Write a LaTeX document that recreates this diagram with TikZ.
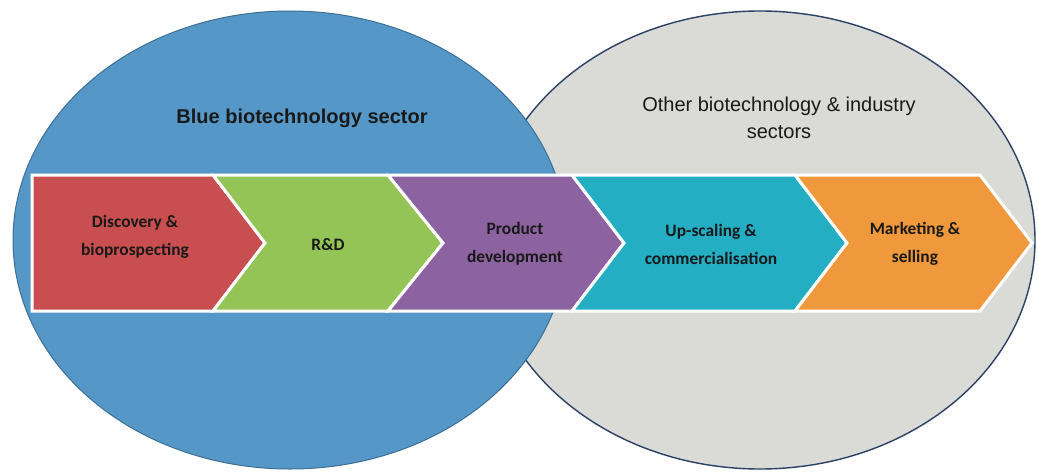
\documentclass[tikz,border=0pt]{standalone}
\usepackage{fontspec}
\setmainfont{Liberation Sans}
\newfontfamily\stagefont{Carlito}
\usetikzlibrary{positioning}
\definecolor{blueSector}{RGB}{85, 152, 200}
\definecolor{blueEdge}{RGB}{60, 110, 150}
\definecolor{otherGray}{RGB}{218, 219, 214}
\definecolor{otherEdge}{RGB}{40, 65, 100}
\definecolor{stageRed}{RGB}{200, 78, 80}
\definecolor{stageGreen}{RGB}{148, 196, 86}
\definecolor{stagePurple}{RGB}{140, 98, 160}
\definecolor{stageCyan}{RGB}{36, 174, 196}
\definecolor{stageOrange}{RGB}{240, 152, 60}
\definecolor{labelInk}{RGB}{25, 25, 25}

\tikzset{
  stage/.style={draw=white, line width=1.5pt, line join=miter},
  stagetext/.style={align=center, text=labelInk, font=\stagefont\bfseries\fontsize{8.7}{14}\selectfont},
  sectortitle/.style={align=center, text=labelInk, font=\fontsize{10}{13.5}\selectfont}
}

\begin{document}
\begin{tikzpicture}[x=0.5pt, y=-0.5pt]
        \useasboundingbox (0,0) rectangle (1038,471);
        \fill[white] (0,0) rectangle (1038,471);
        % the two sectors
        \filldraw[fill=otherGray, draw=otherEdge, line width=0.7pt] (760,240) ellipse [x radius=275, y radius=229];
        \filldraw[fill=blueSector, draw=blueEdge, line width=0.5pt] (290,240) ellipse [x radius=277, y radius=229];
        \node[sectortitle, font=\bfseries\fontsize{10}{13.5}\selectfont] (blue) at (302,118) {Blue biotechnology sector};
        \node[sectortitle] (other) at (779,118) {Other biotechnology \& industry\\sectors};
        % value chain
        \fill[stageRed, stage] (32,175) -- (213,175) -- (265,243) -- (213,311) -- (32,311) -- cycle;
        \fill[stageGreen, stage] (213,175) -- (388,175) -- (443,243) -- (388,311) -- (213,311) -- (265,243) -- cycle;
        \fill[stagePurple, stage] (388,175) -- (572,175) -- (624,243) -- (572,311) -- (388,311) -- (443,243) -- cycle;
        \fill[stageCyan, stage] (572,175) -- (795,175) -- (847,243) -- (795,311) -- (572,311) -- (624,243) -- cycle;
        \fill[stageOrange, stage] (795,175) -- (980,175) -- (1032,243) -- (980,311) -- (795,311) -- (847,243) -- cycle;
        \node[stagetext] (discovery) at (135,237) {Discovery \&\\bioprospecting};
        \node[stagetext] (rnd) at (328,245) {R\&D};
        \node[stagetext] (product) at (515,244) {Product\\development};
        \node[stagetext] (upscaling) at (711,244) {Up-scaling \&\\commercialisation};
        \node[stagetext] (marketing) at (915,244) {Marketing \&\\selling};
    \end{tikzpicture}
\end{document}
